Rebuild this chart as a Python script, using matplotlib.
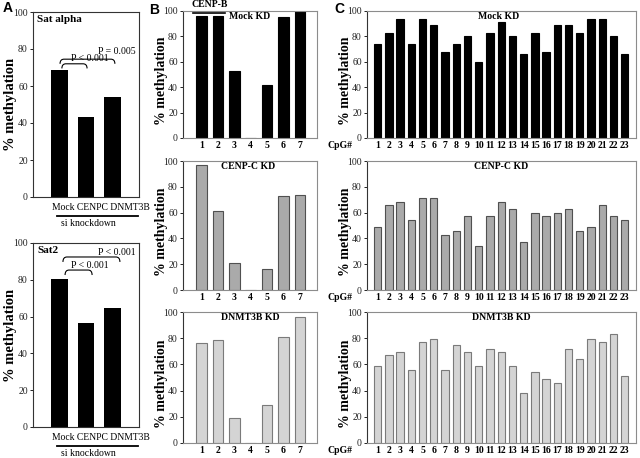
import matplotlib
matplotlib.use('Agg')
import matplotlib.pyplot as plt
from matplotlib.path import Path
from matplotlib.patches import PathPatch
import matplotlib.transforms as mtransforms

plt.rcParams['font.family'] = ['Liberation Serif', 'DejaVu Serif']

# ---------------- data ----------------
a_categories = ['Mock', 'CENPC', 'DNMT3B']
sat_alpha = [68.5, 43.5, 54]
sat2 = [80.5, 56.5, 64.5]
sat_alpha_brackets = [(1.09, 2.04, 69.5, 72.0, 'P < 0.001', 2.15, 75.0),
                      (1.02, 3.09, 72.0, 74.5, 'P = 0.005', 3.15, 78.5)]
sat2_brackets = [(1.21, 2.23, 82.6, 85.3, 'P < 0.001', 2.15, 88.0),
                 (1.13, 3.28, 89.7, 92.4, 'P < 0.001', 3.17, 95.0)]

b_cpg = [1, 2, 3, 4, 5, 6, 7]
b_mock = [96, 96, 53, 0, 42, 95, 100]
b_cenpc = [97, 61, 21, 0, 16, 73, 74]
b_dnmt3b = [76, 79, 19, 0, 29, 81, 96]

c_cpg = list(range(1, 24))
c_mock = [74, 83, 94, 74, 94, 89, 68, 74, 80, 60, 83, 91, 80, 66, 83, 68,
          89, 89, 83, 94, 94, 80, 66]
c_cenpc = [48.6, 65.7, 68.6, 54.3, 71.4, 71.4, 42.9, 45.7, 57.1, 34.3, 57.1,
           68.6, 62.9, 37.1, 60.0, 57.1, 60.0, 62.9, 45.7, 48.6, 65.7, 57.1, 54.3]
c_dnmt3b = [59, 67, 69.5, 56, 77, 79.5, 56, 75, 69.5, 59, 72, 69.5, 59, 38,
            54, 49, 46, 72, 64, 79.5, 77, 83, 51]

kd_names = ['Mock KD', 'CENP-C KD', 'DNMT3B KD']
kd_face = ['#000000', '#aaaaaa', '#d4d4d4']
kd_edge = ['#000000', '#505050', '#7a7a7a']

W, H = 640, 458
fig = plt.figure(figsize=(6.4, 4.58), dpi=100)


def px_axes(x0, y0, x1, y1):
    return fig.add_axes([x0 / W, 1 - y1 / H, (x1 - x0) / W, (y1 - y0) / H])


def brace(ax, x0, x1, y_arm, y_top, r=0.15):
    verts = [(x0, y_arm), (x0, y_top), (x0 + r, y_top), (x1 - r, y_top),
             (x1, y_top), (x1, y_arm)]
    codes = [Path.MOVETO, Path.CURVE3, Path.CURVE3, Path.LINETO,
             Path.CURVE3, Path.CURVE3]
    ax.add_patch(PathPatch(Path(verts, codes), fill=False, lw=0.8,
                           edgecolor='black', clip_on=False))


def style_y(ax, size=7):
    ax.set_ylim(0, 100)
    ax.set_yticks([0, 20, 40, 60, 80, 100])
    ax.tick_params(axis='y', direction='out', length=2.5, width=0.7,
                   pad=1.2, labelsize=size, colors='#222222')


# ---------------- Panel A ----------------
a_specs = [(12, 197, sat_alpha, 'Sat alpha', sat_alpha_brackets),
           (243, 427, sat2, 'Sat2', sat2_brackets)]
for (ytop, ybot, vals, title, brs) in a_specs:
    ax = px_axes(33, ytop, 139, ybot)
    pos = [1, 2, 3]
    ax.bar(pos, vals, width=0.62, color='black')
    ax.set_xlim(0, 4)
    style_y(ax, 7)
    ax.set_xticks([])
    for s in ax.spines.values():
        s.set_color('#333333')
        s.set_linewidth(0.8)
    ax.text(0.04, 0.985, title, transform=ax.transAxes, fontsize=8,
            fontweight='bold', ha='left', va='top')
    ax.set_ylabel('% methylation', fontsize=10.5, fontweight='bold')
    ax.yaxis.set_label_coords(-0.15, 0.5)
    for (x0, x1, ya, yt, txt, tx, ty) in brs:
        brace(ax, x0, x1, ya, yt)
        ax.text(tx, ty, txt, fontsize=7, ha='center', va='center', clip_on=False)
    tr = mtransforms.blended_transform_factory(ax.transData, ax.transAxes)
    ax.text(0.72, -0.055, ' '.join(a_categories), transform=tr, fontsize=6.9,
            ha='left', va='center')
    ax.plot([0.9, 3.95], [-0.103, -0.103], color='black', lw=1.3,
            transform=tr, clip_on=False)
    ax.text(2.08, -0.145, 'si knockdown', transform=tr, fontsize=7,
            ha='center', va='center')

fig.text(3 / W, 1 - 8 / H, 'A', fontsize=10, fontweight='bold',
         family='Liberation Sans', ha='left', va='center')
fig.text(154 / W, 1 - 10 / H, 'B', fontsize=10, fontweight='bold',
         family='Liberation Sans', ha='center', va='center')
fig.text(339 / W, 1 - 9 / H, 'C', fontsize=10, fontweight='bold',
         family='Liberation Sans', ha='center', va='center')

# ---------------- Panels B and C ----------------
rows = [(11, 138), (161, 290), (312, 443)]
b_vals = [b_mock, b_cenpc, b_dnmt3b]
c_vals = [c_mock, c_cenpc, c_dnmt3b]

for i, (ytop, ybot) in enumerate(rows):
    # B
    ax = px_axes(183, ytop, 317, ybot)
    ax.bar(b_cpg, b_vals[i], width=0.64, color=kd_face[i],
           edgecolor=kd_edge[i], linewidth=0.8)
    ax.set_xlim(-0.13, 8.04)
    style_y(ax, 7)
    ax.set_xticks(b_cpg)
    ax.set_xticklabels([str(c) for c in b_cpg], fontsize=7, fontweight='bold')
    ax.tick_params(axis='x', length=0, pad=2.5)
    for name, s in ax.spines.items():
        s.set_color('#333333' if name == 'left' else '#8c8c8c')
        s.set_linewidth(0.8)
    ax.set_ylabel('% methylation', fontsize=10, fontweight='bold')
    ax.yaxis.set_label_coords(-0.112, 0.45)
    bx = 0.485 if i == 1 else 0.5
    ax.text(bx, 0.955, kd_names[i], transform=ax.transAxes, fontsize=7,
            fontweight='bold', ha='center', va='center')
    if i == 0:
        tr = mtransforms.blended_transform_factory(ax.transData, ax.transAxes)
        ax.plot([0.48, 2.43], [0.984, 0.984], color='black', lw=1.2,
                transform=tr, clip_on=False)
        ax.text(1.52, 1.055, 'CENP-B', transform=tr, fontsize=7,
                fontweight='bold', ha='center', va='center')

    # C
    ax = px_axes(367, ytop, 636, ybot)
    ax.bar(c_cpg, c_vals[i], width=0.65, color=kd_face[i],
           edgecolor=kd_edge[i], linewidth=0.8)
    ax.set_xlim(0.05, 24.0)
    style_y(ax, 7)
    ax.set_xticks(c_cpg)
    ax.set_xticklabels([str(c) for c in c_cpg], fontsize=7, fontweight='bold')
    ax.tick_params(axis='x', length=0, pad=2.5)
    for name, s in ax.spines.items():
        s.set_color('#333333' if name == 'left' else '#8c8c8c')
        s.set_linewidth(0.8)
    ax.set_ylabel('% methylation', fontsize=10, fontweight='bold')
    ax.yaxis.set_label_coords(-0.056, 0.45)
    ax.text(0.5 if i else 0.488, 0.955, kd_names[i], transform=ax.transAxes,
            fontsize=7, fontweight='bold', ha='center', va='center')
    ax.annotate('CpG#', xy=(-0.1, 0), xycoords='axes fraction',
                xytext=(0, -2.5), textcoords='offset points', fontsize=7,
                fontweight='bold', ha='center', va='top')

fig.savefig('out.png', dpi=100)
